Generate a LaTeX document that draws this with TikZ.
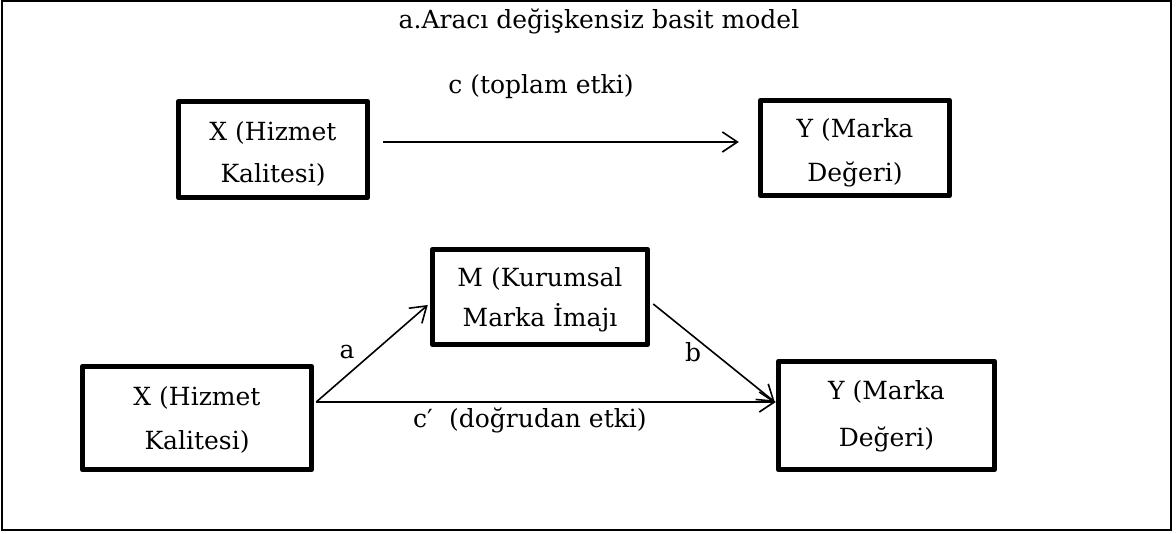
\documentclass[tikz,border=0pt]{standalone}
\usepackage{fontspec}
\setmainfont{DejaVu Serif}
\usetikzlibrary{arrows.meta}
\newcommand{\boxfont}[1]{\fontsize{25}{#1}\selectfont}
\begin{document}
\begin{tikzpicture}[x=1pt,y=-1pt,
  every node/.style={font=\fontsize{25}{42}\selectfont},
  varbox/.style={draw, line width=5.5pt, line join=round, inner sep=0pt},
  boxtext/.style={align=center, inner sep=0pt},
  link/.style={line width=1.6pt, -{Straight Barb[length=15pt,width=20pt,line width=1.6pt]}},
  lbl/.style={inner sep=0pt}]
\useasboundingbox (0,0) rectangle (1176,534);
\draw[line width=2pt] (2,1.5) rectangle (1171,530);

\node[lbl] (title) at (599,21) {a.Aracı değişkensiz basit model};

% upper model: total effect
\node[varbox, minimum width=189pt, minimum height=96pt] (tx) at (273,149.5) {};
\node[boxtext, font=\boxfont{42}] (tx-t) at (273,154) {X (Hizmet\\Kalitesi)};
\node[varbox, minimum width=189pt, minimum height=95pt] (ty) at (855,148) {};
\node[boxtext, font=\boxfont{44}] (ty-t) at (855,153) {Y (Marka\\Değeri)};
\draw[link, shorten <=13pt, shorten >=19pt]
  ([yshift=7.5pt]tx.east) -- ([yshift=7.5pt]tx.east -| ty.west);
\node[lbl] (clab) at (541,87) {c (toplam etki)};

% lower model: mediation
\node[varbox, minimum width=215pt, minimum height=95pt] (m) at (540,297) {};
\node[boxtext, font=\boxfont{40}] (m-t) at (540,300) {M (Kurumsal\\Marka İmajı};
\node[varbox, minimum width=229pt, minimum height=103pt] (bx) at (197,418) {};
\node[boxtext, font=\boxfont{44}] (bx-t) at (197,420) {X (Hizmet\\Kalitesi)};
\node[varbox, minimum width=216pt, minimum height=108pt] (by) at (886.5,415.5) {};
\node[boxtext, font=\boxfont{47}] (by-t) at (886.5,416.5) {Y (Marka\\Değeri)};

\coordinate (src) at ([xshift=2pt,yshift=16pt]bx.east);
\draw[link] (src) -- ([xshift=-2pt,yshift=-8pt]m.west);
\draw[link] ([xshift=3pt,yshift=-7pt]m.east) -- ([xshift=-1pt,yshift=13.5pt]by.west);
\draw[link] (src) -- (src -| by.west);

\node[lbl] (alab) at (347,352) {a};
\node[lbl] (blab) at (693,352) {b};
\node[lbl] (cplab) at (530,420) {c′\,\, (doğrudan etki)};
\end{tikzpicture}
\end{document}
